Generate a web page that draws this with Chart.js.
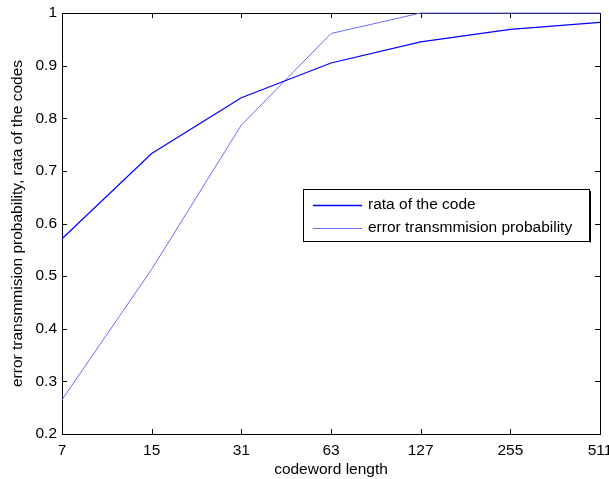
<!DOCTYPE html>
<html>
<head>
<meta charset="utf-8">
<script src="https://cdn.jsdelivr.net/npm/chart.js@4.4.0/dist/chart.umd.min.js"></script>
<style>
  html, body { margin: 0; padding: 0; background: #fff; }
  #wrap { width: 609px; height: 479px; position: relative; }
</style>
</head>
<body>
<div id="wrap"><canvas id="chart"></canvas></div>
<script>
// codeword lengths (x categories)
const codewordLengths = ['7', '15', '31', '63', '127', '255', '511'];
// rate of the code
const codeRate = [0.571, 0.733, 0.839, 0.905, 0.945, 0.969, 0.982];
// error transmission probability
const errorProb = [0.265, 0.513, 0.787, 0.961, 1.0, 1.0, 1.0];
const yTicks = [0.2, 0.3, 0.4, 0.5, 0.6, 0.7, 0.8, 0.9, 1];

const seriesNames = ['rata of the code', 'error transmmision probability'];
const seriesColors = ['#0000ff', '#6a6aff'];

const FONT = '"Liberation Sans", Arial, sans-serif';

// box + inward ticks (under the lines), legend on top
const frame = {
  id: 'frame',
  beforeDatasetsDraw(chart) {
    const ctx = chart.ctx;
    const a = chart.chartArea;
    const xs = chart.scales.x, ys = chart.scales.y;
    ctx.save();
    ctx.strokeStyle = '#000';
    ctx.lineWidth = 1;
    ctx.strokeRect(Math.round(a.left) + 0.5, Math.round(a.top) + 0.5,
      Math.round(a.right - a.left), Math.round(a.bottom - a.top));
    ctx.beginPath();
    xs.ticks.forEach((t, i) => {
      const px = Math.round(xs.getPixelForTick(i)) + 0.5;
      ctx.moveTo(px, a.bottom); ctx.lineTo(px, a.bottom - 5);
      ctx.moveTo(px, a.top); ctx.lineTo(px, a.top + 5);
    });
    ys.ticks.forEach((t, i) => {
      const py = Math.round(ys.getPixelForTick(i)) + 0.5;
      ctx.moveTo(a.left, py); ctx.lineTo(a.left + 5, py);
      ctx.moveTo(a.right, py); ctx.lineTo(a.right - 5, py);
    });
    ctx.stroke();
    ctx.restore();
  },
  afterDraw(chart) {
    const ctx = chart.ctx;
    ctx.save();
    const lx = 303, ly = 189, lw = 286, lh = 52;
    ctx.fillStyle = '#fff';
    ctx.fillRect(lx, ly, lw, lh);
    ctx.strokeStyle = '#000';
    ctx.lineWidth = 1;
    ctx.strokeRect(lx + 0.5, ly + 0.5, lw, lh);
    ctx.beginPath();
    ctx.moveTo(lx + lw + 1.5, ly + 2); ctx.lineTo(lx + lw + 1.5, ly + lh + 1.5);
    ctx.stroke();
    ctx.font = '15.5px ' + FONT;
    ctx.textBaseline = 'middle';
    seriesNames.forEach((name, i) => {
      const y = ly + 16 + i * 23;
      ctx.strokeStyle = seriesColors[i];
      ctx.lineWidth = i === 0 ? 1.4 : 1;
      ctx.beginPath();
      ctx.moveTo(lx + 10, y + 0.5); ctx.lineTo(lx + 59, y + 0.5);
      ctx.stroke();
      ctx.fillStyle = '#000';
      ctx.fillText(name, lx + 65, y);
    });
    ctx.restore();
  }
};

const font = { family: FONT, size: 15.5 };

new Chart(document.getElementById('chart'), {
  type: 'line',
  data: {
    labels: codewordLengths,
    datasets: [
      { label: seriesNames[0], data: codeRate, borderColor: seriesColors[0], borderWidth: 1.2,
        pointRadius: 0, tension: 0, fill: false, clip: 4 },
      { label: seriesNames[1], data: errorProb, borderColor: seriesColors[1], borderWidth: 1,
        pointRadius: 0, tension: 0, fill: false, clip: 4 }
    ]
  },
  options: {
    responsive: true,
    maintainAspectRatio: false,
    animation: false,
    layout: { padding: { top: 13, right: 9, left: 0, bottom: 0 } },
    plugins: { legend: { display: false }, tooltip: { enabled: false } },
    scales: {
      x: {
        type: 'category',
        offset: false,
        grid: { display: false, drawTicks: false },
        border: { display: false },
        ticks: { color: '#000', font: font, padding: 7, maxRotation: 0, autoSkip: false },
        title: { display: true, text: 'codeword length', color: '#000', font: font, padding: { top: 0, bottom: 0 } },
        afterFit(s) { s.height = 45; s.paddingLeft = 0; s.paddingRight = 0; }
      },
      y: {
        min: 0.2, max: 1,
        grid: { display: false, drawTicks: false },
        border: { display: false },
        afterBuildTicks(s) { s.ticks = yTicks.map(v => ({ value: v })); },
        ticks: { color: '#000', font: font, padding: 5,
          callback: v => (v === 1 ? '1' : v.toFixed(1)) },
        title: { display: true, text: 'error transmmision probability, rata of the codes', color: '#000', font: font, padding: { top: 8, bottom: 0 } },
        afterFit(s) { s.width = 62; s.paddingTop = 0; s.paddingBottom = 0; }
      }
    }
  },
  plugins: [frame]
});
</script>
</body>
</html>
